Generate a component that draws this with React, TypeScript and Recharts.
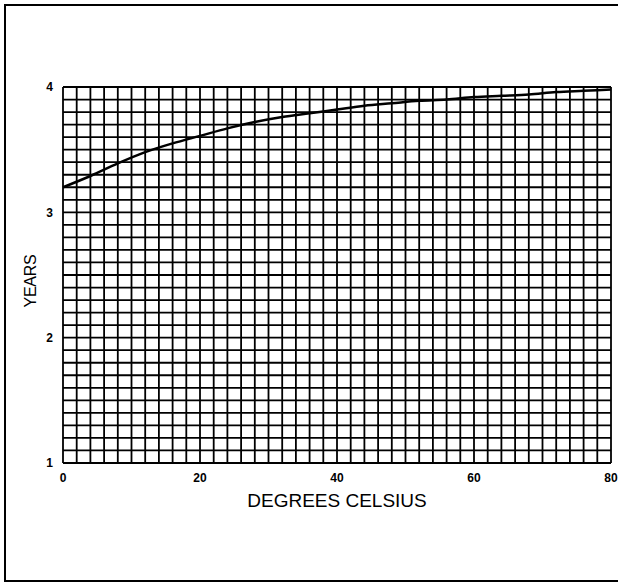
import React from 'react';
import { LineChart, Line, XAxis, YAxis, CartesianGrid, Label } from 'recharts';

const temperatureC = [0, 4, 8, 12, 16, 20, 24, 28, 32, 36, 40, 44, 48, 52, 56, 60, 64, 68, 72, 76, 80];
const yearsValues = [3.2, 3.29, 3.39, 3.48, 3.55, 3.61, 3.67, 3.72, 3.76, 3.79, 3.82, 3.85, 3.87, 3.89, 3.9, 3.92, 3.93, 3.94, 3.96, 3.97, 3.98];

const xLabelTicks = [0, 20, 40, 60, 80];
const yLabelTicks = [1, 2, 3, 4];

const xGridTicks: number[] = [];
for (let i = 0; i <= 40; i++) xGridTicks.push(i * 2);
const yGridTicks: number[] = [];
for (let i = 0; i <= 30; i++) yGridTicks.push(Math.round(10 + i) / 10);

const data = temperatureC.map((t, i) => ({ t, years: yearsValues[i] }));

const FONT = '"Liberation Sans", Arial, Helvetica, sans-serif';

const YearsLabel = (props: any) => {
  const vb = props.viewBox || {};
  const cx = vb.x - 3;
  const cy = vb.y + vb.height / 2 + 6;
  return (
    <text
      x={cx}
      y={cy}
      transform={`rotate(-90, ${cx}, ${cy})`}
      textAnchor="middle"
      dominantBaseline="central"
      fontFamily={FONT}
      fontSize={16}
      letterSpacing={-0.3}
      fill="#000"
    >
      YEARS
    </text>
  );
};

export default function App() {
  return (
    <div style={{ position: 'absolute', left: 0, top: 0, width: 618, height: 582, background: '#fff', overflow: 'hidden' }}>
      <div
        style={{
          position: 'absolute',
          left: 4,
          top: 4,
          width: 640,
          height: 578,
          border: '2px solid #000',
          boxSizing: 'border-box',
        }}
      />
      <LineChart
        width={618}
        height={582}
        data={data}
        margin={{ top: 87, right: 7, left: 33, bottom: 89 }}
        style={{ position: 'absolute', left: 0, top: 0 }}
      >
        <CartesianGrid stroke="#000" strokeWidth={1.8} />
        <XAxis
          dataKey="t"
          type="number"
          domain={[0, 80]}
          ticks={xGridTicks}
          interval={0}
          height={30}
          axisLine={false}
          tickLine={false}
          tickMargin={4}
          tickFormatter={(v: number) => (xLabelTicks.includes(v) ? String(v) : '')}
          tick={{ fill: '#000', fontSize: 12, fontWeight: 700, fontFamily: FONT }}
        >
          <Label
            value="DEGREES CELSIUS"
            position="bottom"
            offset={1}
            style={{ fill: '#000', fontSize: 19, fontFamily: FONT }}
          />
        </XAxis>
        <YAxis
          type="number"
          domain={[1, 4]}
          ticks={yGridTicks}
          interval={0}
          width={30}
          axisLine={false}
          tickLine={false}
          tickMargin={4}
          tickFormatter={(v: number) => (yLabelTicks.includes(v) ? String(v) : '')}
          tick={{ fill: '#000', fontSize: 12, fontWeight: 700, fontFamily: FONT }}
        >
          <Label content={<YearsLabel />} />
        </YAxis>
        <Line
          dataKey="years"
          type="monotone"
          stroke="#000"
          strokeWidth={2.5}
          dot={false}
          isAnimationActive={false}
        />
      </LineChart>
    </div>
  );
}
